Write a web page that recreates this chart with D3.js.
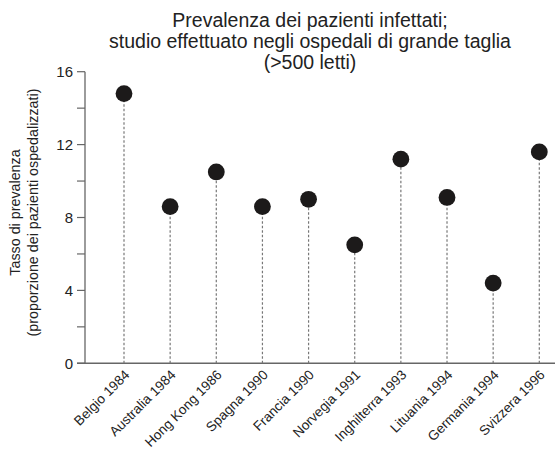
<!DOCTYPE html>
<html><head><meta charset="utf-8">
<script src="https://cdn.jsdelivr.net/npm/d3@7"></script>
<style>body{margin:0;background:#fff;} svg{display:block;} text{font-family:"Liberation Sans",Arial,sans-serif;fill:#222;}</style>
</head><body>
<svg id="c" width="555" height="450"></svg>
<script>
const categories = ["Belgio 1984","Australia 1984","Hong Kong 1986","Spagna 1990","Francia 1990","Norvegia 1991","Inghilterra 1993","Lituania 1994","Germania 1994","Svizzera 1996"];
const values = [14.8, 8.6, 10.5, 8.6, 9.0, 6.5, 11.2, 9.1, 4.4, 11.6];
const yTicks = [0, 4, 8, 12, 16];
const yMinorTicks = [0, 2, 4, 6, 8, 10, 12, 14, 16];
const titleLines = ["Prevalenza dei pazienti infettati;", "studio effettuato negli ospedali di grande taglia", "(>500 letti)"];
const yLabelLines = ["Tasso di prevalenza", "(proporzione dei pazienti ospedalizzati)"];

const svg = d3.select("#c");
const axisX = 85, zeroY = 363.3, topY = 71.7;
const x = d3.scalePoint().domain(categories).range([124, 539.3]);
const y = d3.scaleLinear().domain([0, 16]).range([zeroY, topY]);

// title
svg.append("g").selectAll("text").data(titleLines).join("text")
  .attr("x", 310).attr("y", (d,i) => 27 + i*21)
  .attr("text-anchor", "middle").style("font-size", "19.5px").text(d => d);

// y label
svg.append("g").attr("transform", `translate(0,${(88+337)/2}) rotate(-90)`)
  .selectAll("text").data(yLabelLines).join("text")
  .attr("x", 0).attr("y", (d,i) => 20 + i*18)
  .attr("text-anchor", "middle").style("font-size", "14.3px").text(d => d);

// y axis
const yAxis = svg.append("g").attr("transform", `translate(${axisX},0)`);
yAxis.append("line").attr("x1",0).attr("x2",0).attr("y1",y(16)).attr("y2",zeroY).attr("stroke","#666").attr("stroke-width",1.3);
yAxis.selectAll("line.tk").data(yMinorTicks).join("line").attr("class","tk")
  .attr("x1",-8).attr("x2",0).attr("y1",d=>y(d)).attr("y2",d=>y(d)).attr("stroke","#666").attr("stroke-width",1.2);
yAxis.selectAll("text").data(yTicks).join("text")
  .attr("x",-12).attr("y",d=>y(d)).attr("dy","0.35em").attr("text-anchor","end")
  .style("font-size","15px").text(d=>d);

// x axis line
svg.append("line").attr("x1", axisX-8).attr("x2", 555).attr("y1", zeroY).attr("y2", zeroY)
  .attr("stroke","#666").attr("stroke-width",1.5);

// stems
svg.append("g").selectAll("line").data(values).join("line")
  .attr("x1",(d,i)=>x(categories[i])).attr("x2",(d,i)=>x(categories[i]))
  .attr("y1",zeroY).attr("y2",d=>y(d))
  .attr("stroke","#777").attr("stroke-width",1.2).attr("stroke-dasharray","2.5,2");

// dots
svg.append("g").selectAll("circle").data(values).join("circle")
  .attr("cx",(d,i)=>x(categories[i])).attr("cy",d=>y(d)).attr("r",8.4).attr("fill","#1c1a1a");

// x labels
svg.append("g").selectAll("text").data(categories).join("text")
  .attr("transform", d => `translate(${x(d)+3},${zeroY+9}) rotate(-45)`)
  .attr("text-anchor","end").attr("dy","0.35em").style("font-size","13.6px").text(d=>d);
</script>
</body></html>
